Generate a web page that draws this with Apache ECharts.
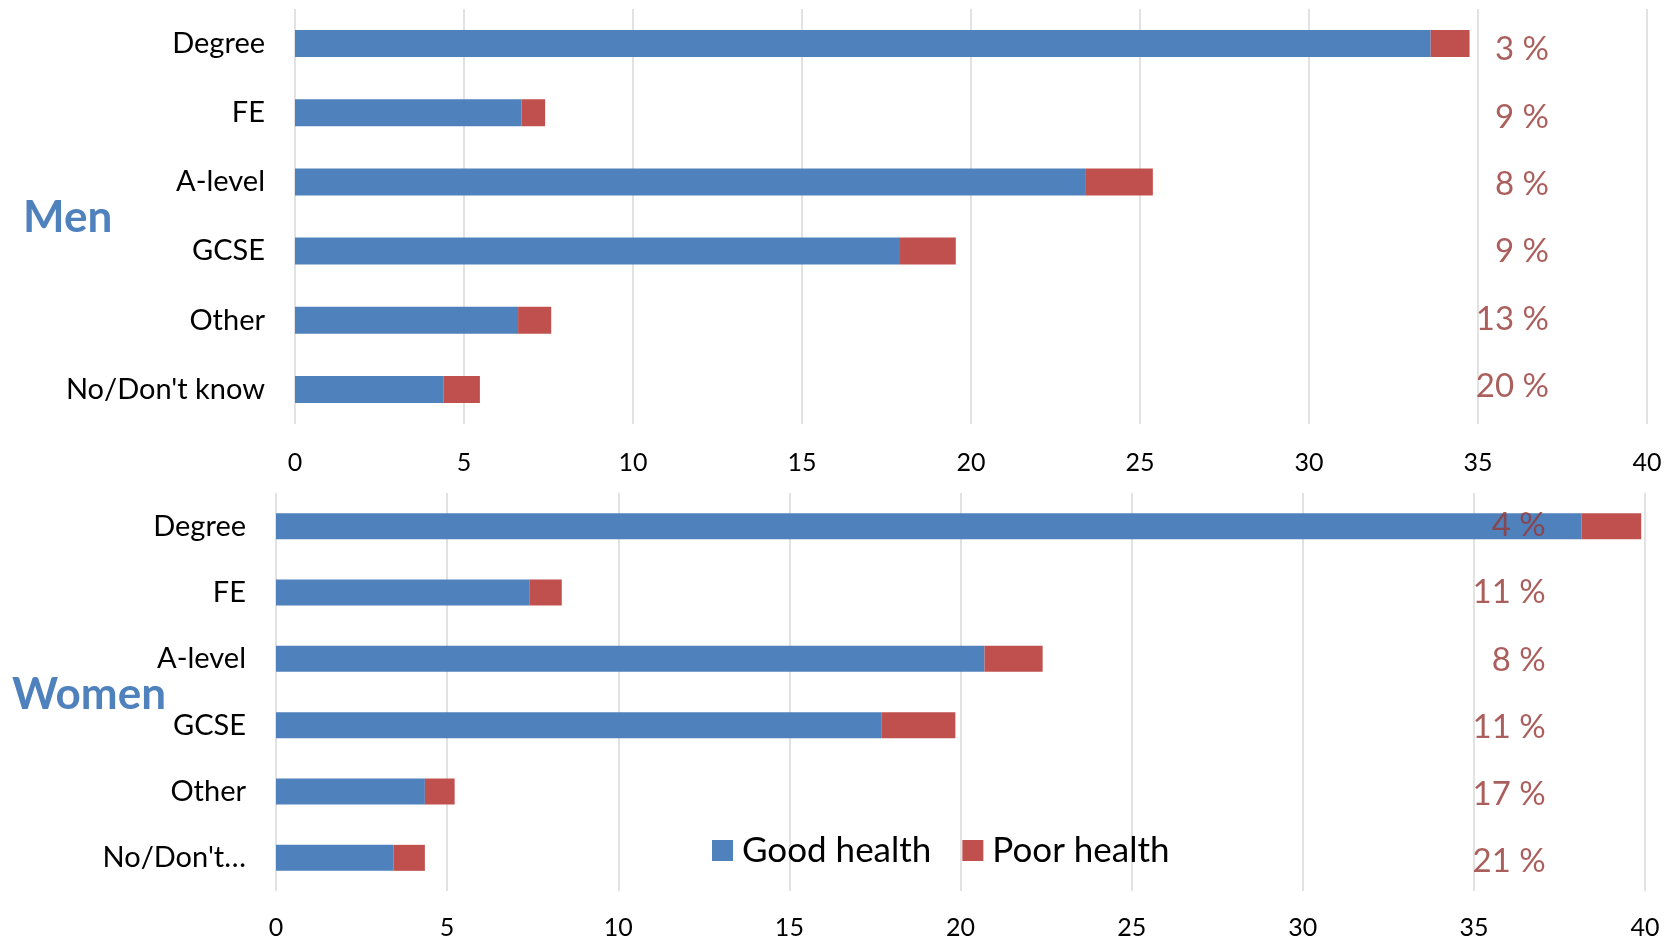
<!DOCTYPE html>
<html>
<head>
    <meta charset="utf-8">
    <title>Good and poor health by qualification</title>
    <script src="https://cdn.jsdelivr.net/npm/echarts@6/dist/echarts.min.js"></script>
    <style>
        html, body { margin: 0; padding: 0; background: #fff; }
        #chart1 { width: 1676px; height: 940px; }
    </style>
</head>
<body>
    <div id="chart1"></div>
    <script type="text/javascript">
        // categories (top to bottom)
        var menCategories = ['Degree', 'FE', 'A-level', 'GCSE', 'Other', "No/Don't know"];
        var womenCategories = ['Degree', 'FE', 'A-level', 'GCSE', 'Other', "No/Don't\u2026"];

        // values
        var menGood = [33.6, 6.7, 23.4, 17.9, 6.6, 4.4];
        var menPoor = [1.15, 0.7, 1.98, 1.65, 0.98, 1.07];
        var womenGood = [38.15, 7.4, 20.7, 17.7, 4.35, 3.43];
        var womenPoor = [1.74, 0.95, 1.7, 2.15, 0.87, 0.92];

        // share with poor health, as printed on the right
        var menPct = [3, 9, 8, 9, 13, 20];
        var womenPct = [4, 11, 8, 11, 17, 21];

        var xTicks = { min: 0, max: 40, interval: 5 };
        var pctAnchor = 37.1; // labels sit right-aligned at this x value

        var blue = '#4F81BD';
        var red = '#C0504D';
        var pctColor = '#953735';
        var font = 'Lato, "Open Sans", sans-serif';

        function xAxis(gridIndex, margin) {
            return {
                type: 'value', gridIndex: gridIndex,
                min: xTicks.min, max: xTicks.max, interval: xTicks.interval,
                axisLine: { show: false }, axisTick: { show: false },
                splitLine: { show: true, lineStyle: { color: '#D9D9D9', width: 1.5 } },
                axisLabel: { color: '#000', fontSize: 25, fontFamily: font, margin: margin }
            };
        }
        function yAxis(gridIndex, cats) {
            return {
                type: 'category', gridIndex: gridIndex, data: cats, inverse: true,
                axisLine: { show: false }, axisTick: { show: false },
                axisLabel: { color: '#000', fontSize: 29, fontFamily: font, margin: 30 }
            };
        }
        // the text labels drift a little against the bars in the original
        function pctSeries(idx, pcts, drift, base) {
            return {
                type: 'scatter', xAxisIndex: idx, yAxisIndex: idx,
                symbolSize: 0, silent: true, z: 10,
                data: pcts.map(function (p, i) {
                    return {
                        value: [pctAnchor, i, p],
                        label: { offset: [0, base + (2.5 - i) * drift] }
                    };
                }),
                label: {
                    show: true, position: 'left', distance: 0,
                    color: pctColor, fontSize: 33, fontFamily: font,
                    formatter: function (p) { return p.value[2] + ' %'; }
                }
            };
        }

        var myChart = echarts.init(document.getElementById('chart1'));
        var option = {
            animation: false,
            title: [
                { text: 'Men', left: 18, top: 191,
                  textStyle: { color: blue, fontSize: 44, fontWeight: 'bold', fontFamily: font } },
                { text: 'Women', left: 7, top: 668,
                  textStyle: { color: blue, fontSize: 44, fontWeight: 'bold', fontFamily: font } }
            ],
            legend: {
                data: ['Good health', 'Poor health'],
                left: 707, top: 828,
                icon: 'rect', itemWidth: 21, itemHeight: 21, itemGap: 31,
                textStyle: { color: '#000', fontSize: 35, fontFamily: font, padding: [0, 0, 0, 4] }
            },
            grid: [
                { left: 295, right: 29, top: 9, height: 415 },
                { left: 276, right: 31, top: 493, height: 398 }
            ],
            xAxis: [xAxis(0, 26), xAxis(1, 24)],
            yAxis: [yAxis(0, menCategories), yAxis(1, womenCategories)],
            series: [
                { name: 'Good health', type: 'bar', stack: 'men', xAxisIndex: 0, yAxisIndex: 0,
                  data: menGood, barWidth: 27, itemStyle: { color: blue } },
                { name: 'Poor health', type: 'bar', stack: 'men', xAxisIndex: 0, yAxisIndex: 0,
                  data: menPoor, barWidth: 27, itemStyle: { color: red } },
                { name: 'Good health', type: 'bar', stack: 'women', xAxisIndex: 1, yAxisIndex: 1,
                  data: womenGood, barWidth: 26, itemStyle: { color: blue } },
                { name: 'Poor health', type: 'bar', stack: 'women', xAxisIndex: 1, yAxisIndex: 1,
                  data: womenPoor, barWidth: 26, itemStyle: { color: red } },
                pctSeries(0, menPct, 1.8, 1.5),
                pctSeries(1, womenPct, -0.9, 1.5)
            ]
        };
        myChart.setOption(option);
    </script>
</body>
</html>
